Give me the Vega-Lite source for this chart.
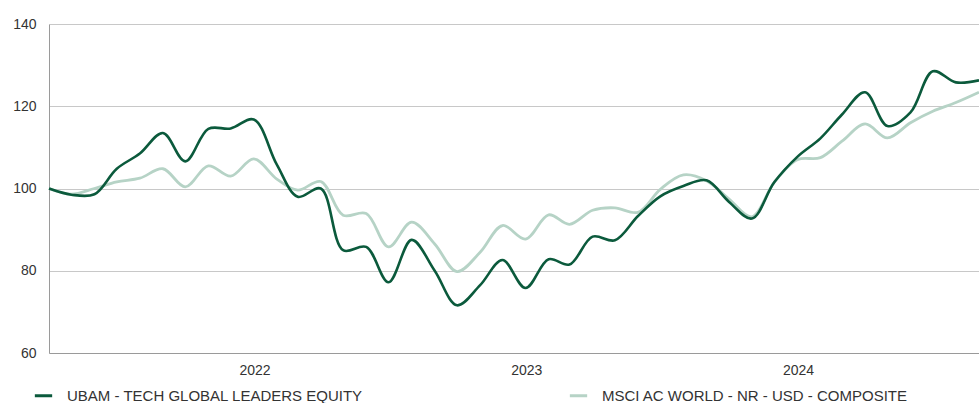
{
  "$schema": "https://vega.github.io/schema/vega-lite/v6.json",
  "autosize": "none",
  "width": 930,
  "height": 329,
  "padding": {"left": 49, "top": 24, "right": 0, "bottom": 50},
  "background": "white",
  "config": {
    "font": "Liberation Sans",
    "view": {"stroke": null},
    "axis": {"labelFont": "Liberation Sans", "labelColor": "#333333", "labelFontSize": 14, "ticks": false, "title": null, "domainColor": "#9a9a9a", "gridColor": "#c8c8c8", "gridWidth": 1.2}
  },
  "data": {"values": [
    {"date": "2021-03-31", "d": 100, "l": 100},
    {"date": "2021-04-30", "d": 98.5, "l": 98.6},
    {"date": "2021-05-31", "d": 98.6, "l": 100.0},
    {"date": "2021-06-30", "d": 104.8, "l": 101.6},
    {"date": "2021-07-31", "d": 108.5, "l": 102.5},
    {"date": "2021-08-31", "d": 113.5, "l": 104.8},
    {"date": "2021-09-30", "d": 106.6, "l": 100.4},
    {"date": "2021-10-31", "d": 114.5, "l": 105.5},
    {"date": "2021-11-30", "d": 114.6, "l": 103.0},
    {"date": "2021-12-31", "d": 116.8, "l": 107.2},
    {"date": "2022-01-31", "d": 105.8, "l": 102.3},
    {"date": "2022-02-28", "d": 98.0, "l": 99.6},
    {"date": "2022-03-31", "d": 100.0, "l": 101.7},
    {"date": "2022-04-30", "d": 85.0, "l": 93.5},
    {"date": "2022-05-31", "d": 85.8, "l": 93.9},
    {"date": "2022-06-30", "d": 77.2, "l": 85.8},
    {"date": "2022-07-31", "d": 87.5, "l": 91.8},
    {"date": "2022-08-31", "d": 80.0, "l": 86.5},
    {"date": "2022-09-30", "d": 71.6, "l": 79.8},
    {"date": "2022-10-31", "d": 76.5, "l": 84.5},
    {"date": "2022-11-30", "d": 82.6, "l": 91.0},
    {"date": "2022-12-31", "d": 75.8, "l": 87.7},
    {"date": "2023-01-31", "d": 82.8, "l": 93.6},
    {"date": "2023-02-28", "d": 81.5, "l": 91.3},
    {"date": "2023-03-31", "d": 88.3, "l": 94.7},
    {"date": "2023-04-30", "d": 87.4, "l": 95.3},
    {"date": "2023-05-31", "d": 93.3, "l": 94.2},
    {"date": "2023-06-30", "d": 98.1, "l": 99.8},
    {"date": "2023-07-31", "d": 100.6, "l": 103.3},
    {"date": "2023-08-31", "d": 102.0, "l": 101.9},
    {"date": "2023-09-30", "d": 96.8, "l": 97.5},
    {"date": "2023-10-31", "d": 92.7, "l": 93.1},
    {"date": "2023-11-30", "d": 101.5, "l": 101.5},
    {"date": "2023-12-31", "d": 107.7, "l": 107.0},
    {"date": "2024-01-31", "d": 112.2, "l": 107.5},
    {"date": "2024-02-29", "d": 118.0, "l": 111.5},
    {"date": "2024-03-31", "d": 123.4, "l": 115.7},
    {"date": "2024-04-30", "d": 115.2, "l": 112.3},
    {"date": "2024-05-31", "d": 118.5, "l": 116.0},
    {"date": "2024-06-30", "d": 128.5, "l": 118.8},
    {"date": "2024-07-31", "d": 125.8, "l": 120.9},
    {"date": "2024-08-31", "d": 126.3, "l": 123.4}
  ]},
  "transform": [
    {"fold": ["l", "d"], "as": ["key", "value"]},
    {"calculate": "datum.key === 'd' ? 'UBAM - TECH GLOBAL LEADERS EQUITY' : 'MSCI AC WORLD - NR - USD - COMPOSITE'", "as": "series"}
  ],
  "encoding": {
    "x": {"field": "date", "type": "temporal", "scale": {"type": "utc", "domain": ["2021-03-31", "2024-08-31"], "nice": false},
      "axis": {"values": [{"year": 2022, "month": 1, "date": 1, "utc": true}, {"year": 2023, "month": 1, "date": 1, "utc": true}, {"year": 2024, "month": 1, "date": 1, "utc": true}], "format": "%Y", "formatType": "utc", "grid": false, "labelPadding": 10}},
    "y": {"field": "value", "type": "quantitative", "scale": {"domain": [60, 140], "nice": false, "zero": false},
      "axis": {"values": [60, 80, 100, 120, 140], "grid": true, "labelPadding": 13}},
    "color": {"field": "series", "type": "nominal",
      "scale": {"domain": ["UBAM - TECH GLOBAL LEADERS EQUITY", "MSCI AC WORLD - NR - USD - COMPOSITE"], "range": ["#0b5a3c", "#b6d3c6"]},
      "legend": {"title": null, "orient": "none", "legendX": -16, "legendY": 361, "direction": "horizontal", "columns": 2, "columnPadding": 200, "symbolType": "stroke", "symbolStrokeWidth": 3, "symbolSize": 300, "labelFontSize": 15, "labelColor": "#333333", "labelFont": "Liberation Sans", "labelLimit": 400, "labelOffset": 13}}
  },
  "layer": [
    {"transform": [{"filter": "datum.key === 'l'"}], "mark": {"type": "line", "interpolate": "catmull-rom", "strokeWidth": 2.8}},
    {"transform": [{"filter": "datum.key === 'd'"}], "mark": {"type": "line", "interpolate": "catmull-rom", "strokeWidth": 2.6}}
  ]
}
